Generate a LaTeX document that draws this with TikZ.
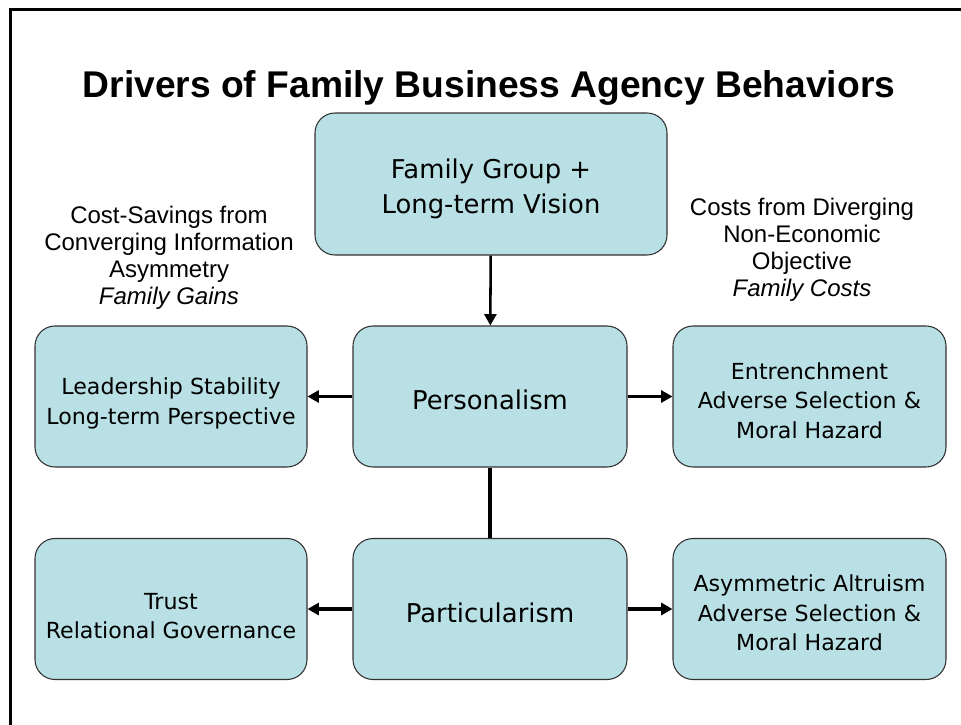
\documentclass[tikz,border=0pt]{standalone}
\usepackage{fontspec}
\setmainfont{Liberation Sans}
\newfontfamily\boxfont{DejaVu Sans}
\usetikzlibrary{arrows.meta}
\definecolor{boxfill}{RGB}{185,224,228}
\definecolor{boxline}{RGB}{50,50,50}
\newcommand\padtop[1]{\rule{0pt}{#1}}
\begin{document}
\begin{tikzpicture}[x=0.75pt,y=-0.75pt,
  card/.style={draw=boxline, line width=0.8pt, fill=boxfill, rounded corners=15pt, inner sep=0pt, align=center},
  bigcard/.style={card, font=\boxfont\fontsize{19.4pt}{26.25pt}\selectfont},
  smallcard/.style={card, font=\boxfont\fontsize{16.6pt}{22pt}\selectfont},
  sidetext/.style={align=center, inner sep=0pt, font=\fontsize{18pt}{20.25pt}\selectfont},
  link/.style={line width=2.4pt, -{Triangle[length=8.5pt,width=9pt]}},
  plainlink/.style={line width=2.4pt}
]
\useasboundingbox (0,0) rectangle (961,725);
\draw[line width=2.25pt, line join=miter] (10,725) -- (10,9) -- (961,9);

\node[font=\bfseries\fontsize{27.9pt}{32pt}\selectfont, inner sep=0pt] (title) at (489,88) {Drivers of Family Business Agency Behaviors};

\node[bigcard, minimum width=264pt, minimum height=106.5pt] (top) at (491,184) {\padtop{21.5pt}Family Group +\\Long-term Vision};
\node[bigcard, minimum width=205.5pt, minimum height=105.75pt] (pers) at (490,396.5) {\padtop{20pt}Personalism};
\node[bigcard, minimum width=205.5pt, minimum height=105.75pt] (part) at (490,609) {\padtop{20pt}Particularism};

\node[smallcard, minimum width=204pt, minimum height=105.75pt] (l1) at (171,396.5) {\padtop{23pt}Leadership Stability\\Long-term Perspective};
\node[smallcard, minimum width=204.75pt, minimum height=105.75pt] (r1) at (809.5,396.5) {\padtop{18.6pt}Entrenchment\\Adverse Selection \&\\Moral Hazard};
\node[smallcard, minimum width=204pt, minimum height=105.75pt] (l2) at (171,609) {\padtop{23pt}Trust\\Relational Governance};
\node[smallcard, minimum width=204.75pt, minimum height=105.75pt] (r2) at (809.5,609) {\padtop{18.6pt}Asymmetric Altruism\\Adverse Selection \&\\Moral Hazard};

\node[sidetext] (gains) at (169,258) {Cost-Savings from\\Converging Information\\Asymmetry\\\textit{Family Gains}};
\node[sidetext] (costs) at (802,250) {Costs from Diverging\\Non-Economic\\Objective\\\textit{Family Costs}};

\draw[link, line width=1.9pt] (top) -- (pers);
\draw[plainlink] (pers) -- (part);
\draw[link] (pers) -- (l1);
\draw[link] (pers) -- (r1);
\draw[link] (part) -- (l2);
\draw[link] (part) -- (r2);
\end{tikzpicture}
\end{document}
